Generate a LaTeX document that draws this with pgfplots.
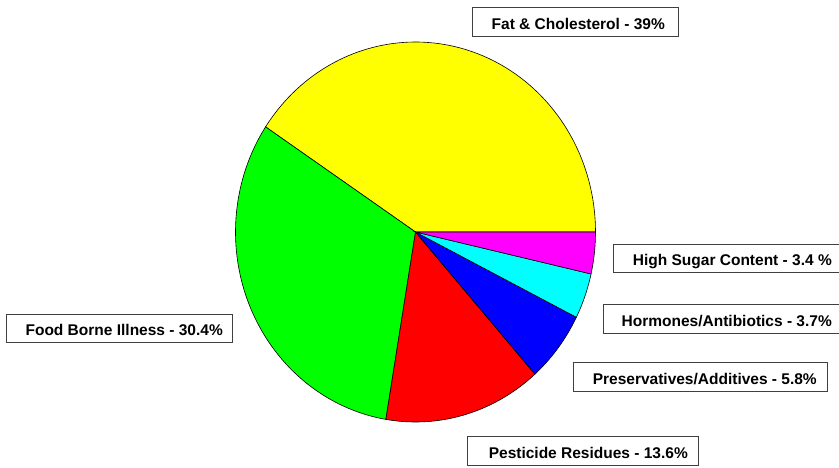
\documentclass[border=0pt]{standalone}
\usepackage{pgfplots}
\pgfplotsset{compat=1.18}
\usepackage{fontspec}
\setmainfont{Liberation Sans}
\newfontfamily\labfont{Liberation Sans Bold}
\definecolor{pYellow}{RGB}{255,255,0}
\definecolor{pGreen}{RGB}{0,255,0}
\definecolor{pRed}{RGB}{255,0,0}
\definecolor{pBlue}{RGB}{0,0,255}
\definecolor{pCyan}{RGB}{0,255,255}
\definecolor{pMagenta}{RGB}{255,0,255}
% slice percentages (as shown on the chart)
\def\vA{39}\def\vB{30.4}\def\vC{13.6}\def\vD{5.8}\def\vE{3.7}\def\vF{3.4}
\pgfmathsetmacro\tot{\vA+\vB+\vC+\vD+\vE+\vF}
\pgfmathsetmacro\aA{0}
\pgfmathsetmacro\aB{\vA/\tot*360}
\pgfmathsetmacro\aC{(\vA+\vB)/\tot*360}
\pgfmathsetmacro\aD{(\vA+\vB+\vC)/\tot*360}
\pgfmathsetmacro\aE{(\vA+\vB+\vC+\vD)/\tot*360}
\pgfmathsetmacro\aF{(\vA+\vB+\vC+\vD+\vE)/\tot*360}
\pgfmathsetmacro\aG{360}
\begin{document}
\begin{tikzpicture}
\useasboundingbox (0,0) rectangle (839bp,468bp);
\begin{axis}[
  scale only axis, width=839bp, height=468bp,
  xmin=0, xmax=839, ymin=0, ymax=468, y dir=reverse,
  hide axis, clip=false,
]
\def\slice#1#2#3{%
  \addplot[fill=#1, draw=black, line width=0.6bp, domain=#2:#3, samples=90, variable=\t]
    ({415.5+180*cos(t)},{232-190*sin(t)}) -- (axis cs:415.5,232) -- cycle;}
\slice{pYellow}{\aA}{\aB}
\slice{pGreen}{\aB}{\aC}
\slice{pRed}{\aC}{\aD}
\slice{pBlue}{\aD}{\aE}
\slice{pCyan}{\aE}{\aF}
\slice{pMagenta}{\aF}{\aG}
\tikzset{lab/.style={anchor=base east, inner sep=0pt, font=\labfont\fontsize{15.5bp}{18bp}\selectfont}}
\draw[black!75, line width=0.8bp] (axis cs:472,7) rectangle (axis cs:678,36);
\node[lab] at (axis cs:665,29.5) {Fat \& Cholesterol - 39\%};
\draw[black!75, line width=0.8bp] (axis cs:613,244) rectangle (axis cs:845,272);
\node[lab] at (axis cs:832,265) {High Sugar Content - 3.4 \%};
\draw[black!75, line width=0.8bp] (axis cs:603,304) rectangle (axis cs:845,333);
\node[lab] at (axis cs:832,326) {Hormones/Antibiotics - 3.7\%};
\draw[black!75, line width=0.8bp] (axis cs:573,362) rectangle (axis cs:827,391);
\node[lab] at (axis cs:817,384) {Preservatives/Additives - 5.8\%};
\draw[black!75, line width=0.8bp] (axis cs:467,436) rectangle (axis cs:698,465);
\node[lab] at (axis cs:688,458) {Pesticide Residues - 13.6\%};
\draw[black!75, line width=0.8bp] (axis cs:6,314) rectangle (axis cs:232,342);
\node[lab] at (axis cs:223,335) {Food Borne Illness - 30.4\%};
\end{axis}
\end{tikzpicture}
\end{document}
